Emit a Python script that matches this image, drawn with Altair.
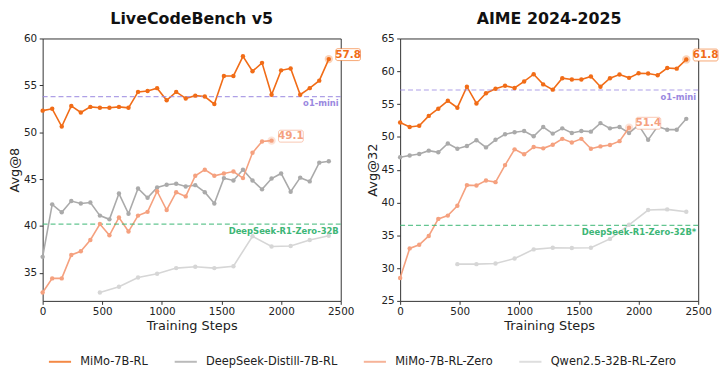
import altair as alt
import pandas as pd

SERIES = ["MiMo-7B-RL", "DeepSeek-Distill-7B-RL", "MiMo-7B-RL-Zero", "Qwen2.5-32B-RL-Zero"]
COLORS = ["#F16C17", "#AAAAAA", "#F5A17F", "#D6D6D6"]

steps_full = [0, 80, 160, 240, 320, 400, 480, 560, 640, 720, 800, 880, 960, 1040, 1120, 1200,
              1280, 1360, 1440, 1520, 1600, 1680, 1760, 1840, 1920, 2000, 2080, 2160, 2240, 2320, 2400]
steps_zero = [0, 80, 160, 240, 320, 400, 480, 560, 640, 720, 800, 880, 960, 1040, 1120, 1200,
              1280, 1360, 1440, 1520, 1600, 1680, 1760, 1840, 1920]
steps_qwen = [480, 640, 800, 960, 1120, 1280, 1440, 1600, 1760, 1920, 2080, 2240, 2400]

# LiveCodeBench v5 (Avg@8)
lcb_rl = [52.3, 52.5, 50.6, 52.8, 52.1, 52.7, 52.6, 52.6, 52.7, 52.6, 54.3, 54.4, 54.7, 53.4, 54.3, 53.6,
          53.9, 53.8, 53.0, 56.0, 56.0, 58.1, 56.5, 57.4, 54.0, 56.6, 56.8, 54.0, 54.7, 55.5, 57.8]
lcb_distill = [36.7, 42.3, 41.45, 42.65, 42.4, 42.5, 41.1, 40.7, 43.45, 41.3, 44.0, 43.0, 44.1, 44.4, 44.5, 44.2,
               44.35, 43.6, 42.4, 45.1, 44.85, 46.0, 44.85, 43.9, 45.05, 45.6, 43.65, 45.15, 44.75, 46.75, 46.9]
lcb_zero = [32.9, 34.4, 34.4, 36.9, 37.3, 38.5, 40.2, 39.0, 40.9, 39.4, 41.1, 41.5, 43.7, 41.7, 43.6, 43.15,
            45.35, 46.0, 45.35, 45.6, 45.8, 45.1, 47.8, 49.0, 49.1]
lcb_qwen = [32.9, 33.5, 34.5, 34.9, 35.5, 35.65, 35.5, 35.7, 38.9, 37.8, 37.85, 38.5, 38.95]
lcb_o1mini = 53.8
lcb_r1zero = 40.2

# AIME 2024-2025 (Avg@32)
aime_rl = [52.2, 51.5, 51.7, 53.2, 54.3, 55.5, 54.45, 57.65, 55.1, 56.65, 57.35, 57.8, 57.45, 58.45, 59.55, 58.0,
           57.2, 58.95, 58.75, 58.75, 59.2, 57.65, 58.95, 59.5, 59.0, 59.7, 59.65, 59.4, 60.5, 60.4, 61.8]
aime_distill = [46.9, 47.15, 47.4, 47.9, 47.65, 49.0, 48.2, 48.6, 49.5, 48.4, 49.55, 50.4, 50.7, 50.9, 50.1, 51.5,
                50.5, 51.3, 50.6, 50.9, 50.8, 52.1, 51.3, 51.5, 50.6, 51.8, 49.55, 51.6, 51.1, 51.1, 52.75]
aime_zero = [28.5, 33.0, 33.55, 34.9, 37.5, 38.0, 39.5, 42.65, 42.6, 43.35, 43.1, 45.7, 48.1, 47.35, 48.45, 48.25,
             48.8, 49.7, 49.15, 49.7, 48.2, 48.55, 48.75, 49.35, 51.4]
aime_qwen = [30.6, 30.6, 30.7, 31.45, 32.85, 33.1, 33.05, 33.1, 34.45, 36.6, 38.85, 38.95, 38.6]
aime_o1mini = 57.15
aime_r1zero = 36.5

x_ticks = [0, 500, 1000, 1500, 2000, 2500]

W, H = 301, 265

color_scale = alt.Scale(domain=SERIES, range=COLORS)


def long_df(rl, distill, zero, qwen):
    rows = []
    for name, xs, ys in [(SERIES[0], steps_full, rl), (SERIES[1], steps_full, distill),
                         (SERIES[2], steps_zero, zero), (SERIES[3], steps_qwen, qwen)]:
        for x, y in zip(xs, ys):
            rows.append({"series": name, "step": x, "value": y})
    return pd.DataFrame(rows)


def panel(title, ytitle, ydomain, yticks, rl, distill, zero, qwen, o1, r1, r1label):
    df = long_df(rl, distill, zero, qwen)
    xs = alt.X("step:Q", scale=alt.Scale(domain=[0, 2500], nice=False),
               axis=alt.Axis(values=x_ticks, title="Training Steps", format="d",
                             labelOverlap=False, labelFlush=False))
    ys = alt.Y("value:Q", scale=alt.Scale(domain=ydomain, nice=False, zero=False),
               axis=alt.Axis(values=yticks, title=ytitle, format="d", tickCount=len(yticks),
                             labelOverlap=False, labelFlush=False))
    col = alt.Color("series:N", scale=color_scale, sort=SERIES,
                    legend=alt.Legend(title=None, orient="none", direction="horizontal",
                                      legendX=5, legendY=314, symbolType="stroke",
                                      symbolStrokeWidth=2, symbolSize=500, labelFontSize=11.5,
                                      labelOffset=8, columnPadding=22, labelColor="#222"))
    base = alt.Chart(df)
    lines = base.mark_line(strokeWidth=1.6).encode(x=xs, y=ys, color=col, detail="series:N")
    pts = base.mark_circle(size=20, opacity=1).encode(
        x=xs, y=ys, color=alt.Color("series:N", scale=color_scale, legend=None))

    ref = pd.DataFrame({"value": [o1, r1], "lab": ["o1-mini", r1label],
                        "c": ["#9A88E0", "#3DB676"]})
    rules = alt.Chart(ref).mark_rule(strokeDash=[5, 3], strokeWidth=1.2, opacity=0.8).encode(
        y=ys, color=alt.Color("c:N", scale=None))
    reftext = alt.Chart(ref).mark_text(align="right", baseline="middle", dx=-2, dy=7,
                                       fontSize=8.5, fontWeight="bold").encode(
        x=alt.value(W), y=ys, text="lab:N", color=alt.Color("c:N", scale=None))

    last = pd.DataFrame({"step": [steps_full[-1], steps_zero[-1]],
                         "value": [rl[-1], zero[-1]],
                         "lab": [f"{rl[-1]:.1f}", f"{zero[-1]:.1f}"],
                         "series": [SERIES[0], SERIES[2]]})
    halo = alt.Chart(last).mark_circle(size=70, opacity=0.3).encode(
        x=xs, y=ys, color=alt.Color("series:N", scale=color_scale, legend=None))
    box = alt.Chart(last).mark_rect(xOffset=7, x2Offset=32, yOffset=-10.5, y2Offset=1.5,
                                    cornerRadius=2, fill="white", strokeWidth=1,
                                    strokeOpacity=0.6).encode(
        x=xs, x2="step:Q", y=ys, y2="value:Q",
        stroke=alt.Stroke("series:N", scale=color_scale, legend=None))
    btxt = alt.Chart(last).mark_text(align="center", baseline="middle", dx=19.5, dy=-4.5,
                                     fontSize=10.5, fontWeight="bold").encode(
        x=xs, y=ys, text="lab:N",
        color=alt.Color("series:N", scale=color_scale, legend=None))

    return alt.layer(lines, rules, reftext, pts, halo, box, btxt).properties(
        width=W, height=H,
        title=alt.TitleParams(title, fontSize=16, fontWeight="bold", color="#111", offset=7))


left = panel("LiveCodeBench v5", "Avg@8", [32, 60], [35, 40, 45, 50, 55, 60],
             lcb_rl, lcb_distill, lcb_zero, lcb_qwen, lcb_o1mini, lcb_r1zero, "DeepSeek-R1-Zero-32B")
right = panel("AIME 2024-2025", "Avg@32", [25, 65], [25, 30, 35, 40, 45, 50, 55, 60, 65],
              aime_rl, aime_distill, aime_zero, aime_qwen, aime_o1mini, aime_r1zero, "DeepSeek-R1-Zero-32B*")

chart = alt.hconcat(left, right, spacing=60, bounds="flush").resolve_scale(
    color="shared", stroke="shared").properties(padding=0).configure(
    font="DejaVu Sans").configure_view(stroke="#333", strokeWidth=1).configure_axis(
    domain=False, grid=False, tickColor="#333", tickSize=3.5, labelFontSize=10.5,
    labelColor="#222", titleFontSize=13, titleFontWeight="normal", titleColor="#222",
    labelPadding=2.5, titlePadding=2, labelOverlap=False).configure_title(anchor="middle")

chart.save("out.html", embed_options={"renderer": "svg", "actions": False})
